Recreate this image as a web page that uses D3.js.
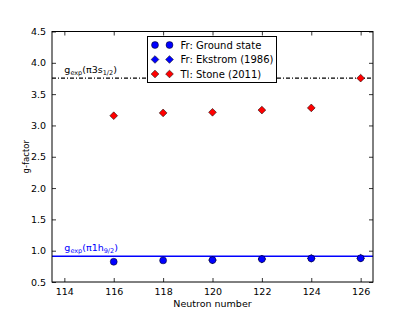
<!DOCTYPE html>
<meta charset="utf-8">
<style>
    body { margin: 0; background: #fff; }
    text { font-family: "DejaVu Sans", sans-serif; }
</style>
<svg width="415" height="314"></svg>
<script src="https://d3js.org/d3.v7.min.js"></script>
<script>
    // data
    var groundN = [116, 118, 120, 122, 124, 126];
    var groundG = [0.823, 0.845, 0.85, 0.866, 0.877, 0.88];
    var ekstromN = [120, 122, 124, 126];
    var ekstromG = [0.85, 0.866, 0.877, 0.88];
    var stoneN = [116, 118, 120, 122, 124, 126];
    var stoneG = [3.155, 3.20, 3.21, 3.245, 3.28, 3.755];
    var gS12 = 3.755;
    var gH92 = 0.91;
    var xTicks = [114, 116, 118, 120, 122, 124, 126];
    var yTicks = [0.5, 1.0, 1.5, 2.0, 2.5, 3.0, 3.5, 4.0, 4.5];
    var legendLabels = ["Fr: Ground state", "Fr: Ekstrom (1986)", "Tl: Stone (2011)"];

    var svg = d3.select("svg");
    var m = {left: 52, right: 42, top: 31.5, bottom: 32};
    var W = 415, H = 314;
    var x = d3.scaleLinear().domain([113.5, 126.5]).range([m.left, W - m.right]);
    var y = d3.scaleLinear().domain([0.5, 4.5]).range([H - m.bottom, m.top]);

    var g = svg.append("g");

    // reference lines
    g.append("line")
        .attr("x1", x(113.5)).attr("x2", x(126.5))
        .attr("y1", y(gS12)).attr("y2", y(gS12))
        .attr("stroke", "#000").attr("stroke-width", 1.3)
        .attr("stroke-dasharray", "4,2,1,2");
    g.append("line")
        .attr("x1", x(113.5)).attr("x2", x(126.5))
        .attr("y1", y(gH92)).attr("y2", y(gH92))
        .attr("stroke", "#0000ff").attr("stroke-width", 1.6);

    // annotations
    function label(yy, color, sup, sub) {
        var t = g.append("text").attr("x", x(114)).attr("y", y(yy) - 5)
            .attr("fill", color).attr("font-size", 9.5);
        t.append("tspan").text("g");
        t.append("tspan").attr("dy", 2).attr("font-size", 6.5).text("exp");
        t.append("tspan").attr("dy", -2).text("(\u03c0" + sup);
        t.append("tspan").attr("dy", 2).attr("font-size", 6.5).text(sub);
        t.append("tspan").attr("dy", -2).text(")");
    }
    label(gS12, "#000", "3s", "1/2");
    label(gH92, "#0000ff", "1h", "9/2");

    // matplotlib-style diamond: a square turned 45 degrees
    var square = d3.symbol().type(d3.symbolSquare).size(30);
    var circle = d3.symbol().type(d3.symbolCircle).size(38);
    function diamondAt(px, py) { return "translate(" + px + "," + py + ") rotate(45)"; }

    g.selectAll(".ek").data(ekstromN).enter().append("path")
        .attr("d", square)
        .attr("transform", function (d, i) { return diamondAt(x(d), y(ekstromG[i])); })
        .attr("fill", "#0000ff").attr("stroke", "#000").attr("stroke-width", 0.5);
    g.selectAll(".gs").data(groundN).enter().append("path")
        .attr("d", circle)
        .attr("transform", function (d, i) { return "translate(" + x(d) + "," + y(groundG[i]) + ")"; })
        .attr("fill", "#0000ff").attr("stroke", "#000").attr("stroke-width", 0.5);
    g.selectAll(".st").data(stoneN).enter().append("path")
        .attr("d", square)
        .attr("transform", function (d, i) { return diamondAt(x(d), y(stoneG[i])); })
        .attr("fill", "#ff0000").attr("stroke", "#000").attr("stroke-width", 0.5);

    // axes (ticks inward on all sides)
    function styleAxis(sel) {
        sel.select(".domain").remove();
        sel.selectAll("text").attr("font-size", 9.5).attr("fill", "#000");
        sel.selectAll("line").attr("stroke", "#000").attr("stroke-width", 0.8);
    }
    svg.append("g").attr("transform", "translate(0," + (H - m.bottom) + ")")
        .call(d3.axisBottom(x).tickValues(xTicks).tickFormat(d3.format("d")).tickSizeInner(-4).tickPadding(6))
        .call(styleAxis);
    svg.append("g").attr("transform", "translate(0," + m.top + ")")
        .call(d3.axisTop(x).tickValues(xTicks).tickFormat("").tickSizeInner(-4))
        .call(styleAxis);
    svg.append("g").attr("transform", "translate(" + m.left + ",0)")
        .call(d3.axisLeft(y).tickValues(yTicks).tickFormat(d3.format(".1f")).tickSizeInner(-4).tickPadding(6))
        .call(styleAxis);
    svg.append("g").attr("transform", "translate(" + (W - m.right) + ",0)")
        .call(d3.axisRight(y).tickValues(yTicks).tickFormat("").tickSizeInner(-4))
        .call(styleAxis);

    svg.append("rect")
        .attr("x", m.left).attr("y", m.top)
        .attr("width", W - m.left - m.right).attr("height", H - m.top - m.bottom)
        .attr("fill", "none").attr("stroke", "#000").attr("stroke-width", 1);

    // axis titles
    svg.append("text").attr("x", (m.left + W - m.right) / 2).attr("y", H - 7)
        .attr("text-anchor", "middle").attr("font-size", 9.5).text("Neutron number");
    svg.append("text")
        .attr("transform", "translate(29," + ((m.top + H - m.bottom) / 2) + ") rotate(-90)")
        .attr("text-anchor", "middle").attr("font-size", 8.5)
        .text("g-factor");

    // legend
    var lg = svg.append("g").attr("transform", "translate(147.5,36.5)");
    lg.append("rect").attr("width", 129).attr("height", 46)
        .attr("fill", "#fff").attr("stroke", "#000").attr("stroke-width", 1);
    var legendColors = ["#0000ff", "#0000ff", "#ff0000"];
    legendLabels.forEach(function (lab, i) {
        var yy = 8.5 + i * 14.5;
        [7.5, 22].forEach(function (xx) {
            lg.append("path").attr("d", i === 0 ? circle : square)
                .attr("transform", i === 0 ? "translate(" + xx + "," + yy + ")" : diamondAt(xx, yy))
                .attr("fill", legendColors[i]).attr("stroke", "#000").attr("stroke-width", 0.5);
        });
        lg.append("text").attr("x", 33).attr("y", yy + 3.5)
            .attr("font-size", 10).text(lab);
    });
</script>
